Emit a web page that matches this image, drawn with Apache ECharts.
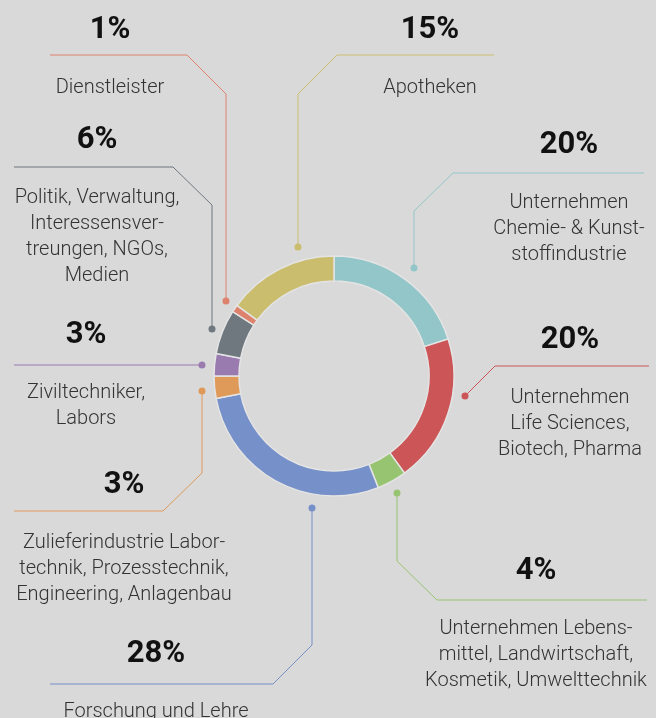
<!DOCTYPE html>
<html lang="de">
<head>
  <meta charset="UTF-8">
  <script src="https://cdn.jsdelivr.net/npm/echarts@6/dist/echarts.min.js"></script>
  <title>Branchen</title>
  <style>
    html, body { margin: 0; padding: 0; background: #d9d9d9; }
    #chart { width: 656px; height: 718px; }
  </style>
</head>
<body>
  <div id="chart"></div>
  <script>
    // Anteile je Branche, im Uhrzeigersinn ab 12 Uhr
    const names = [
      "Unternehmen Chemie- & Kunststoffindustrie",
      "Unternehmen Life Sciences, Biotech, Pharma",
      "Unternehmen Lebensmittel, Landwirtschaft, Kosmetik, Umwelttechnik",
      "Forschung und Lehre",
      "Zulieferindustrie Labortechnik, Prozesstechnik, Engineering, Anlagenbau",
      "Ziviltechniker, Labors",
      "Politik, Verwaltung, Interessensvertreungen, NGOs, Medien",
      "Dienstleister",
      "Apotheken"
    ];
    const values = [20, 20, 4, 28, 3, 3, 6, 1, 15];
    // Zeilenumbrüche wie im Original
    const labelLines = [
      ["Unternehmen", "Chemie- & Kunst-", "stoffindustrie"],
      ["Unternehmen", "Life Sciences,", "Biotech, Pharma"],
      ["Unternehmen Lebens-", "mittel, Landwirtschaft,", "Kosmetik, Umwelttechnik"],
      ["Forschung und Lehre"],
      ["Zulieferindustrie Labor-", "technik, Prozesstechnik,", "Engineering, Anlagenbau"],
      ["Ziviltechniker,", "Labors"],
      ["Politik, Verwaltung,", "Interessensver-", "treungen, NGOs,", "Medien"],
      ["Dienstleister"],
      ["Apotheken"]
    ];
    const colors = ["#93c6c9", "#cc5657", "#96c471", "#7690c9", "#df9a5a",
                    "#9a7bb0", "#6f777f", "#dd826d", "#cbbd6e"];

    // Platzierung der Beschriftungen (Mitte x, Höhe der Prozentzahl) und Führungslinien
    const labelPos = [
      { x: 569, y: 143, line: [[414, 268], [414, 211], [453, 173], [644, 173]] },
      { x: 570, y: 338, line: [[465, 396], [495, 366], [649, 366]] },
      { x: 536, y: 569, line: [[397, 493], [397, 561], [437, 600], [647, 600]] },
      { x: 156, y: 652, line: [[312, 508], [312, 645], [273, 684], [50, 684]] },
      { x: 124, y: 483, line: [[202, 391], [202, 473], [163, 511], [14, 511]] },
      { x: 86, y: 333, line: [[202, 365], [14, 365]] },
      { x: 97, y: 138, line: [[212, 329], [212, 205], [173, 167], [14, 167]] },
      { x: 110, y: 28, line: [[226, 301], [226, 94], [187, 55], [50, 55]] },
      { x: 430, y: 28, line: [[298, 247], [298, 94], [337, 55], [494, 55]] }
    ];
    const pLine = 90;

    const chart = echarts.init(document.getElementById("chart"));
    chart.setOption({
      backgroundColor: "#d9d9d9",
      color: colors,
      animation: false,
      graphic: labelPos.map((p, i) => ({
        type: "circle",
        z: 10,
        shape: { cx: p.line[0][0], cy: p.line[0][1], r: 3.5 },
        style: { fill: colors[i] }
      })),
      series: [{
        type: "pie",
        center: [334, 376],
        radius: [95, 120],
        startAngle: 90,
        clockwise: true,
        avoidLabelOverlap: false,
        itemStyle: { borderColor: "#e4e4e4", borderWidth: 1.5 },
        label: {
          show: true,
          position: "outside",
          formatter: (param) => {
            const rows = labelLines[param.dataIndex].map((l) => "{n|" + l + "}");
            return "{p|" + param.value + "%}\n" + rows.join("\n");
          },
          rich: {
            p: {
              fontFamily: "Roboto",
              fontSize: 31,
              fontWeight: "bold",
              color: "#111",
              lineHeight: pLine,
              align: "center"
            },
            n: {
              fontFamily: "Roboto",
              fontSize: 20,
              fontWeight: 300,
              color: "#333",
              lineHeight: 26,
              align: "center"
            }
          }
        },
        labelLine: { show: true, lineStyle: { width: 1 } },
        labelLayout: (params) => {
          const p = labelPos[params.dataIndex];
          return {
            x: p.x,
            y: p.y - pLine / 2 + 2,
            align: "center",
            verticalAlign: "top",
            labelLinePoints: p.line
          };
        },
        data: names.map((n, i) => ({ name: n, value: values[i] }))
      }]
    });
  </script>
</body>
</html>
